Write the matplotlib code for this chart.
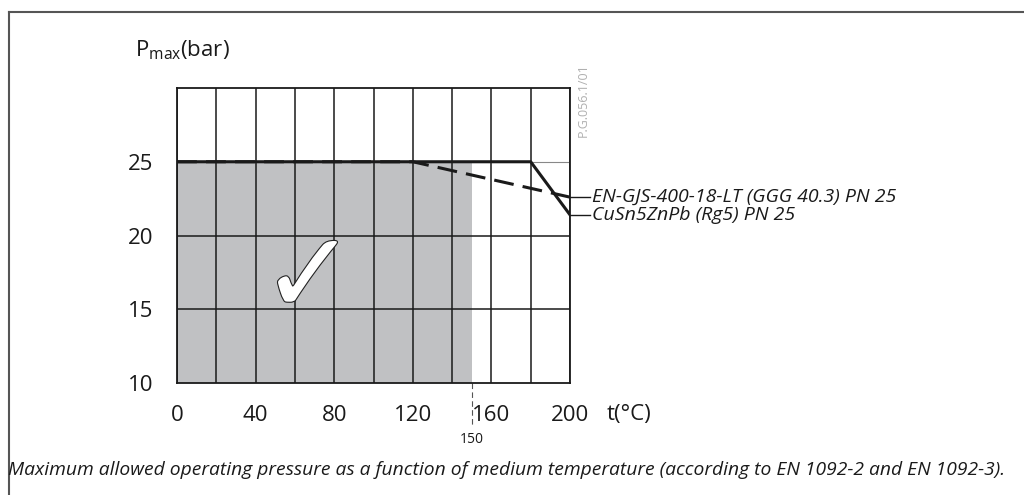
import matplotlib
matplotlib.use('Agg')
import matplotlib.pyplot as plt
import matplotlib.patheffects as pe
from matplotlib.lines import Line2D

plt.rcParams['font.family'] = ['Open Sans', 'DejaVu Sans']

# Chart data
temp_cusn = [0, 180, 200]
pmax_cusn = [25, 25, 21.4]
temp_ggg = [0, 120, 200]
pmax_ggg = [25, 25, 22.6]
label_ggg = 'EN-GJS-400-18-LT (GGG 40.3) PN 25'
label_cusn = 'CuSn5ZnPb (Rg5) PN 25'

# Allowed operating area (shaded)
area_temp = [0, 150]
area_pmin = 10
area_pmax = 25

x_ticks = [0, 40, 80, 120, 160, 200]
y_ticks = [10, 15, 20, 25]
x_grid = list(range(0, 201, 20))
y_grid = [15, 20]

caption = ('Maximum allowed operating pressure as a function of medium temperature '
           '(according to EN 1092-2 and EN 1092-3).')

fig = plt.figure(figsize=(10.24, 4.95), dpi=100)
ax = fig.add_axes([177 / 1024, 1 - 383 / 495, 393 / 1024, 295 / 495])

ax.set_xlim(0, 200)
ax.set_ylim(10, 30)

# Shaded area
ax.fill_between(area_temp, area_pmin, area_pmax, color='#c0c1c3', linewidth=0, zorder=1)

# Grid
for gx in x_grid:
    ax.axvline(gx, color='#1a1a1a', linewidth=1.1, zorder=2)
for gy in y_grid:
    ax.axhline(gy, color='#1a1a1a', linewidth=1.1, zorder=2)
ax.axhline(25, color='#888888', linewidth=0.8, zorder=2)

# Pressure curves
ax.plot(temp_ggg, pmax_ggg, color='#1a1a1a', linewidth=2.2, linestyle=(0, (6.5, 3)), zorder=3)
ax.plot(temp_cusn, pmax_cusn, color='#1a1a1a', linewidth=2.2, zorder=4)

# Leader lines and labels
for py, lab in [(pmax_ggg[-1], label_ggg), (pmax_cusn[-1], label_cusn)]:
    ax.plot([200, 210], [py, py], color='#1a1a1a', linewidth=1.0, clip_on=False, zorder=4)
    ax.text(211, py, lab, fontsize=14, style='italic', va='center', ha='left', color='#1a1a1a')

# Marker for 150 degrees
ax.plot([150, 150], [10, 7.0], color='#555555', linewidth=0.8, linestyle=(0, (5, 3)),
        clip_on=False)
ax.text(150, 6.2, '150', fontsize=10, ha='center', va='center', color='#1a1a1a')

# Check mark
ax.text(67, 16.9, '\u2713', fontsize=82, color='white', ha='center', va='center',
        family='DejaVu Sans', fontweight='bold', zorder=5,
        path_effects=[pe.withStroke(linewidth=1.6, foreground='#222222')])

# Drawing reference
ax.text(206.6, 31.7, 'P.G.056.1/01', fontsize=9, color='#b0b0b0', rotation=90,
        ha='center', va='top', clip_on=False)

for s in ax.spines.values():
    s.set_color('#1a1a1a')
    s.set_linewidth(1.3)

ax.set_xticks(x_ticks)
ax.set_yticks(y_ticks)
ax.tick_params(length=0, labelsize=16, colors='#1a1a1a', pad=16)
ax.tick_params(axis='y', pad=17)

# Axis titles
ax.text(218.5, 7.85, 't(\u00b0C)', fontsize=16, ha='left', va='center', color='#1a1a1a')
fig.text(135 / 1024, 1 - 50 / 495, r'P$_\mathregular{max}$(bar)', fontsize=16,
         ha='left', va='center', color='#1a1a1a')

# Caption
fig.text(8 / 1024, 1 - 470 / 495, caption, fontsize=13.9, style='italic',
         ha='left', va='center', color='#1a1a1a')

# Outer frame (top and left)
fig.add_artist(Line2D([9 / 1024, 1], [1 - 12 / 495, 1 - 12 / 495], color='#555555', linewidth=1.5))
fig.add_artist(Line2D([9 / 1024, 9 / 1024], [0, 1 - 12 / 495], color='#555555', linewidth=1.5))

fig.savefig('out.png', dpi=100)
